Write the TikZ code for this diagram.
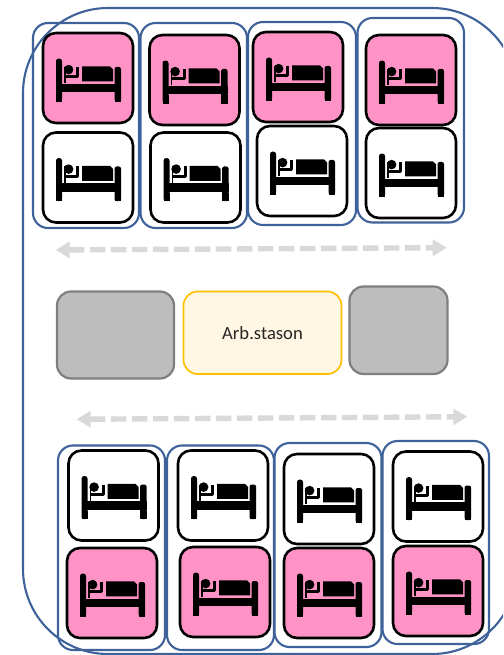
\documentclass[tikz,border=0pt]{standalone}
\usepackage{fontspec}
\setmainfont{Carlito}
\usetikzlibrary{arrows.meta}
\definecolor{outlineblue}{HTML}{3E6299}
\definecolor{bedpink}{HTML}{FF93C6}
\definecolor{grayfill}{HTML}{BDBDBD}
\definecolor{grayline}{HTML}{7F7F7F}
\definecolor{yellowfill}{HTML}{FFF6E3}
\definecolor{yellowline}{HTML}{FFC000}
\definecolor{arrowgray}{HTML}{D9D9D9}
\tikzset{
  rbox/.style={rectangle,anchor=north west,inner sep=0pt,outer sep=0pt},
  bigoutline/.style={rbox,draw=outlineblue,line width=2.1pt,rounded corners=85pt},
  groupbox/.style={rbox,draw=outlineblue,line width=2.1pt,rounded corners=15pt},
  tilebox/.style={rbox,draw=black,line width=2.6pt,rounded corners=13pt,minimum width=90pt,minimum height=90pt},
  pinktile/.style={tilebox,fill=bedpink},
  whitetile/.style={tilebox,fill=white},
  graybox/.style={rbox,draw=grayline,fill=grayfill,line width=2.2pt,rounded corners=14pt},
  yellowbox/.style={rbox,draw=yellowline,fill=yellowfill,line width=1.7pt,rounded corners=14pt},
  walkway/.style={draw=arrowgray,line width=5.4pt,dash pattern=on 15.6pt off 5.4pt,
    {Triangle[length=14pt,width=16pt]}-{Triangle[length=14pt,width=16pt]}},
  bedpart/.style={fill=black,draw=none},
}
\newcommand{\rrect}[6]{\node[#1,minimum width=#5pt-#3pt,minimum height=#6pt-#4pt] (#2) at (#3,#4) {};}
\newcommand{\bedtile}[4]{%
  \node[#1] (#2) at (#3,#4) {};
  \begin{scope}[shift={(#3,#4)}]
    \fill[bedpart,rounded corners=2.5pt] (13,68.6) -- (13,25.6) -- (19,25.6) -- (19,68.6) -- cycle;
    \fill[bedpart,rounded corners=2pt] (71.6,68.6) -- (71.6,34) -- (78,34) -- (78,68.6) -- cycle;
    \fill[bedpart] (13,50.6) rectangle (78,59);
    \fill[bedpart] (13,68.6) rectangle (19,60);
    \fill[bedpart] (71.6,68.6) rectangle (78,60);
    \fill[bedpart] (25.6,36.6) circle (4.8);
    \fill[bedpart] (39,33.3) -- (67,33.3) -- (70,36.5) -- (70,48.3) -- (39,48.3) -- cycle;
    \draw[black,line width=3pt,line join=round] (21.5,43.5) -- (34.6,43.5) -- (34.6,34);
    \draw[black,line width=1.2pt] (22,34) -- (22,50);
  \end{scope}}
\begin{document}
\begin{tikzpicture}[x=1pt,y=-1pt]
\useasboundingbox (0,0) rectangle (503,655);
\clip (0,0) rectangle (503,655);
\fill[white] (0,0) rectangle (503,655);
% large outline
\rrect{bigoutline}{hall}{23}{8}{517}{654}
% room groups
\rrect{groupbox}{g1}{33}{23}{139}{228}
\rrect{groupbox}{g2}{140.5}{23}{247}{228}
\rrect{groupbox}{g3}{248}{22}{356}{225}
\rrect{groupbox}{g4}{357.5}{18}{464}{222.5}
\rrect{groupbox}{g5}{58}{445.5}{165}{650}
\rrect{groupbox}{g6}{167}{445.5}{274}{650}
\rrect{groupbox}{g7}{274.5}{443}{381.5}{647}
\rrect{groupbox}{g8}{382.5}{441}{489}{644}
% beds, top
\bedtile{pinktile}{t1p}{43}{33}
\bedtile{whitetile}{t1w}{43}{132.5}
\bedtile{pinktile}{t2p}{149.5}{35}
\bedtile{whitetile}{t2w}{150.5}{132.5}
\bedtile{pinktile}{t3p}{253}{32}
\bedtile{whitetile}{t3w}{257}{126}
\bedtile{pinktile}{t4p}{366}{35}
\bedtile{whitetile}{t4w}{366}{128}
% beds, bottom
\bedtile{whitetile}{b1w}{68.5}{450.5}
\bedtile{pinktile}{b1p}{67}{548}
\bedtile{whitetile}{b2w}{178}{450.5}
\bedtile{pinktile}{b2p}{180}{547}
\bedtile{whitetile}{b3w}{284}{454}
\bedtile{pinktile}{b3p}{284}{548}
\bedtile{whitetile}{b4w}{393}{451.5}
\bedtile{pinktile}{b4p}{393}{546}
% central boxes
\rrect{graybox}{grayA}{57}{291.5}{174}{378.5}
\node[yellowbox,minimum width=158pt,minimum height=82.5pt,text=black!85,font=\fontsize{18.6}{22}\selectfont] (station) at (183.5,291.5) {Arb.stason};
\rrect{graybox}{grayB}{349.5}{286.5}{447.5}{374}
% walkway arrows
\coordinate (w1a) at (55.7,250);
\coordinate (w1b) at (446.7,247.7);
\coordinate (w2a) at (76.7,419.3);
\coordinate (w2b) at (467.3,416.7);
\draw[walkway] (w1a) -- (w1b);
\draw[walkway] (w2a) -- (w2b);
\end{tikzpicture}
\end{document}
